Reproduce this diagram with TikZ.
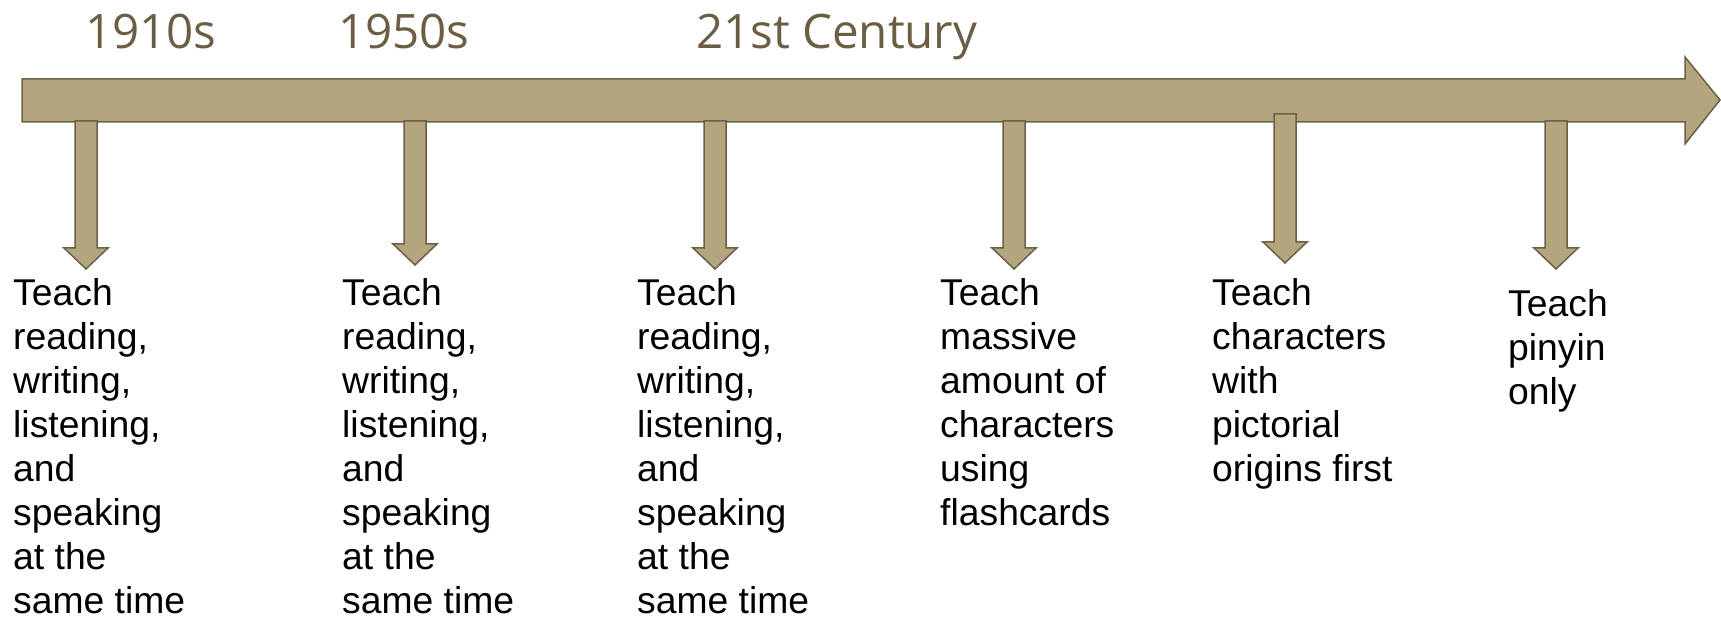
\documentclass[tikz,border=0pt]{standalone}
\usepackage{fontspec}
\setmainfont{Liberation Sans}
\newfontfamily\erafont{Open Sans}
\definecolor{khaki}{HTML}{B3A67D}
\definecolor{khakiline}{HTML}{6C6048}
\definecolor{eratext}{HTML}{6B5E45}

\begin{document}
\begin{tikzpicture}[x=1pt,y=-1pt,
    blockarrow/.style={fill=khaki,draw=khakiline,line width=1.5pt},
    era/.style={anchor=base west,inner sep=0pt,text=eratext,font=\erafont\fontsize{47.5}{56}\selectfont},
    method/.style={anchor=north west,inner sep=0pt,align=left,font=\fontsize{37.3}{44}\selectfont}]
    \useasboundingbox (0,0) rectangle (1721,617);

    % time line
    \draw[blockarrow] (22,79) -- (1685,79) -- (1685,57) -- (1720,100) -- (1685,144) -- (1685,122) -- (22,122) -- cycle;
    \foreach \x/\top/\head in {86/121/248, 415/121/244, 715/121/248, 1014/121/248, 1285/114/242, 1556/121/248}
        \draw[blockarrow] (\x-11,\top) -- (\x+11,\top) -- (\x+11,\head) -- (\x+22,\head) -- (\x,\head+21) -- (\x-22,\head) -- (\x-11,\head) -- cycle;

    \node[era] (e1910) at (85,49) {1910s};
    \node[era] (e1950) at (338,49) {1950s};
    \node[era] (e21) at (696,49) {21st Century};

    \node[method] (m1910) at (13,278) {Teach\\reading,\\writing,\\listening,\\and\\speaking\\at the\\same time};
    \node[method] (m1950) at (342,278) {Teach\\reading,\\writing,\\listening,\\and\\speaking\\at the\\same time};
    \node[method] (m21) at (637,278) {Teach\\reading,\\writing,\\listening,\\and\\speaking\\at the\\same time};
    \node[method] (mflash) at (940,278) {Teach\\massive\\amount of\\characters\\using\\flashcards};
    \node[method] (mpict) at (1212,278) {Teach\\characters\\with\\pictorial\\origins first};
    \node[method] (mpinyin) at (1508,289) {Teach\\pinyin\\only};
\end{tikzpicture}
\end{document}
